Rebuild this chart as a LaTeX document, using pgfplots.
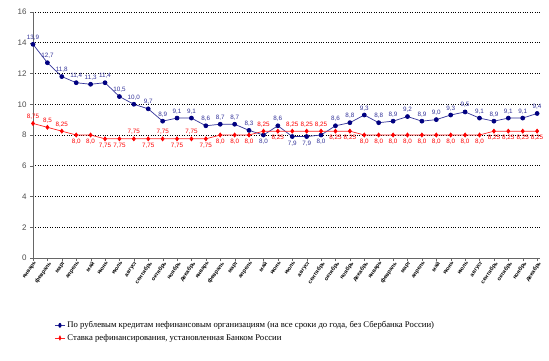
\documentclass[border=0pt]{standalone}
\usepackage{fontspec}
\setmainfont{Liberation Serif}
\newfontfamily\arial{Liberation Sans}
\usepackage{pgfplots}
\usepackage{pgfplotstable}
\pgfplotsset{compat=1.18}
\definecolor{navyb}{RGB}{0,0,128}
\definecolor{lblb}{RGB}{51,51,153}
\definecolor{redr}{RGB}{255,0,0}

% blue series, labels above
\pgfplotstableread{
x y lbl
0 13.9 13,9
1 12.7 12,7
2 11.8 11,8
3 11.4 11,4
4 11.3 11,3
5 11.4 11,4
6 10.5 10,5
7 10.0 10,0
8 9.7 9,7
9 8.9 8,9
10 9.1 9,1
11 9.1 9,1
12 8.6 8,6
13 8.7 8,7
14 8.7 8,7
15 8.3 8,3
17 8.6 8,6
21 8.6 8,6
22 8.8 8,8
23 9.3 9,3
24 8.8 8,8
25 8.9 8,9
26 9.2 9,2
27 8.9 8,9
28 9.0 9,0
29 9.3 9,3
30 9.5 9,5
31 9.1 9,1
32 8.9 8,9
33 9.1 9,1
34 9.1 9,1
35 9.4 9,4
}\blueA
% blue series, labels below
\pgfplotstableread{
x y lbl
16 8.0 8,0
18 7.9 7,9
19 7.9 7,9
20 8.0 8,0
}\blueB
% red series, labels above
\pgfplotstableread{
x y lbl
0 8.75 8,75
1 8.5 8,5
2 8.25 8,25
7 7.75 7,75
9 7.75 7,75
11 7.75 7,75
16 8.25 8,25
18 8.25 8,25
19 8.25 8,25
20 8.25 8,25
}\redA
% red series, labels below
\pgfplotstableread{
x y lbl
3 8.0 8,0
4 8.0 8,0
5 7.75 7,75
6 7.75 7,75
8 7.75 7,75
10 7.75 7,75
12 7.75 7,75
13 8.0 8,0
14 8.0 8,0
15 8.0 8,0
17 8.25 8,25
21 8.25 8,25
22 8.25 8,25
23 8.0 8,0
24 8.0 8,0
25 8.0 8,0
26 8.0 8,0
27 8.0 8,0
28 8.0 8,0
29 8.0 8,0
30 8.0 8,0
31 8.0 8,0
32 8.25 8,25
33 8.25 8,25
34 8.25 8,25
35 8.25 8,25
}\redB

\begin{document}
\begin{tikzpicture}
\path[use as bounding box] (-33pt,-103pt) rectangle (516pt,258pt);
\begin{axis}[
  at={(0,0)}, anchor=south west,
  scale only axis, width=507pt, height=246pt,
  xmin=0, xmax=35.2, ymin=0, ymax=16,
  ytick={0,2,...,16},
  xtick={0,...,35},
  xticklabels={январь,февраль,март,апрель,май,июнь,июль,август,сентябрь,октябрь,ноябрь,декабрь,январь,февраль,март,апрель,май,июнь,июль,август,сентябрь,октябрь,ноябрь,декабрь,январь,февраль,март,апрель,май,июнь,июль,август,сентябрь,октябрь,ноябрь,декабрь},
  axis x line*=bottom, axis y line*=left,
  axis line style={gray!80!black, line width=0.8pt},
  tick style={gray!80!black},
  tick align=outside, major tick length=3pt,
  ymajorgrids, major grid style={black, dotted, line width=0.5pt},
  /pgf/number format/assume math mode=true,
  y tick label style={font=\arial\fontsize{8}{9}\selectfont, text=black!70},
  x tick label style={font=\arial\bfseries\fontsize{5.5}{6}\selectfont, rotate=55, anchor=north east, inner sep=0.5pt, xshift=1pt},
  legend style={at={(rel axis cs:0.04,-0.245)}, anchor=north west, draw=none, fill=none,
    font=\fontsize{8.7}{10}\selectfont, row sep=1pt, inner sep=1pt},
  legend cell align=left,
  legend image post style={xscale=0.6},
  lab/.style={draw=none, mark=none, forget plot, nodes near coords={\pgfplotspointmeta},
    point meta=explicit symbolic},
]
\addplot[color=lblb, line width=0.7pt, mark=*, mark size=2pt, mark options={fill=navyb, draw=navyb}]
  coordinates {(0,13.9) (1,12.7) (2,11.8) (3,11.4) (4,11.3) (5,11.4) (6,10.5) (7,10.0) (8,9.7) (9,8.9) (10,9.1) (11,9.1)
  (12,8.6) (13,8.7) (14,8.7) (15,8.3) (16,8.0) (17,8.6) (18,7.9) (19,7.9) (20,8.0) (21,8.6) (22,8.8) (23,9.3)
  (24,8.8) (25,8.9) (26,9.2) (27,8.9) (28,9.0) (29,9.3) (30,9.5) (31,9.1) (32,8.9) (33,9.1) (34,9.1) (35,9.4)};
\addlegendentry{По рублевым кредитам нефинансовым организациям (на все сроки до года, без Сбербанка России)}
\addplot[color=redr!85!white, line width=0.7pt, mark=diamond*, mark size=2pt, mark options={fill=redr, draw=redr}]
  coordinates {(0,8.75) (1,8.5) (2,8.25) (3,8.0) (4,8.0) (5,7.75) (6,7.75) (7,7.75) (8,7.75) (9,7.75) (10,7.75) (11,7.75)
  (12,7.75) (13,8.0) (14,8.0) (15,8.0) (16,8.25) (17,8.25) (18,8.25) (19,8.25) (20,8.25) (21,8.25) (22,8.25) (23,8.0)
  (24,8.0) (25,8.0) (26,8.0) (27,8.0) (28,8.0) (29,8.0) (30,8.0) (31,8.0) (32,8.25) (33,8.25) (34,8.25) (35,8.25)};
\addlegendentry{Ставка рефинансирования, установленная Банком России}
\addplot[lab, every node near coord/.append style={anchor=south, font=\arial\fontsize{6.3}{6.3}\selectfont, text=lblb, inner sep=1pt, yshift=3pt}]
  table[x=x, y=y, meta=lbl] {\blueA};
\addplot[lab, every node near coord/.append style={anchor=north, font=\arial\fontsize{6.3}{6.3}\selectfont, text=lblb, inner sep=1pt, yshift=-3pt}]
  table[x=x, y=y, meta=lbl] {\blueB};
\addplot[lab, every node near coord/.append style={anchor=south, font=\arial\fontsize{6.3}{6.3}\selectfont, text=redr, inner sep=1pt, yshift=3pt}]
  table[x=x, y=y, meta=lbl] {\redA};
\addplot[lab, every node near coord/.append style={anchor=north, font=\arial\fontsize{6.3}{6.3}\selectfont, text=redr, inner sep=1pt, yshift=-3pt}]
  table[x=x, y=y, meta=lbl] {\redB};
\end{axis}
\end{tikzpicture}
\end{document}
